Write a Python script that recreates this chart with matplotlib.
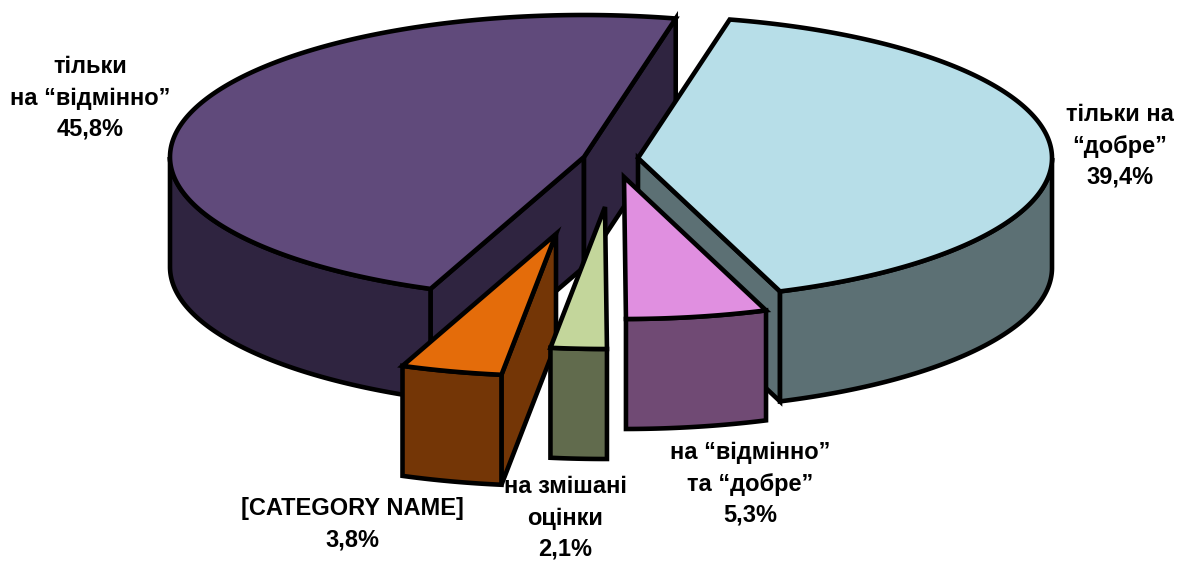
import numpy as np
import matplotlib
matplotlib.use('Agg')
from matplotlib import pyplot as plt
from matplotlib.patches import Polygon

# data, clockwise from the start angle
labels = ['тільки на\n“добре”', 'на “відмінно”\nта “добре”', 'на змішані\nоцінки',
          '[CATEGORY NAME]', 'тільки\nна “відмінно”']
values = [39.4, 5.3, 2.1, 3.8, 45.8]

# styles
top_colors = ['#B7DEE8', '#E08FE0', '#C3D69B', '#E46C0A', '#604A7B']
side_colors = ['#5C7074', '#704A74', '#616B4D', '#743606', '#2F2440']
apex = [(638, 158), (624, 177), (605, 207), (556, 234), (584, 157)]
label_pos = [(1120, 146), (750, 484), (565, 518), (352, 524), (90, 98)]
draw_order = [4, 0, 3, 2, 1]

start_angle = 12.8
rx, ry = 414, 142
depth = 110
lw = 3.3

fig = plt.figure(figsize=(11.77, 5.62), dpi=100)
ax = fig.add_axes([0, 0, 1, 1])
ax.set_xlim(0, 1177)
ax.set_ylim(562, 0)
ax.axis('off')


def rim(cx, cy, t0, t1):
    t = np.radians(np.linspace(t0, t1, max(int(abs(t1 - t0)) * 2, 2)))
    return np.column_stack([cx + rx * np.sin(t), cy - ry * np.cos(t)])


def face(pts, color, z):
    ax.add_patch(Polygon(pts, closed=True, facecolor=color, edgecolor='black',
                         linewidth=lw, joinstyle='miter', zorder=z))


def cut_wall(cx, cy, t, color, z):
    p = rim(cx, cy, t, t)[0]
    face([(cx, cy), p, (p[0], p[1] + depth), (cx, cy + depth)], color, z)


angles = start_angle + np.cumsum([0] + values) / sum(values) * 360

for z, i in enumerate(draw_order):
    cx, cy = apex[i]
    t0, t1 = angles[i], angles[i + 1]
    side = side_colors[i]
    base = z * 10

    # cut faces turned to the viewer
    if np.sin(np.radians(t0)) < -0.01:
        cut_wall(cx, cy, t0, side, base + 1)
    if np.sin(np.radians(t1)) > 0.01:
        cut_wall(cx, cy, t1, side, base + 1)

    # outer wall, front half of the ellipse only
    a, b = max(t0, 90), min(t1, 270)
    if b > a:
        r = rim(cx, cy, a, b)
        face(np.vstack([r, (r + [0, depth])[::-1]]), side, base + 2)

    face(np.vstack([[(cx, cy)], rim(cx, cy, t0, t1)]), top_colors[i], base + 3)

for i in range(len(values)):
    pct = f'{values[i]:.1f}'.replace('.', ',') + '%'
    ax.text(label_pos[i][0], label_pos[i][1], labels[i] + '\n' + pct, ha='center', va='center',
            ma='center', family='Liberation Sans', weight='bold', fontsize=17,
            linespacing=1.45, color='black', zorder=100)

fig.savefig('out.png', dpi=100, facecolor='white')
